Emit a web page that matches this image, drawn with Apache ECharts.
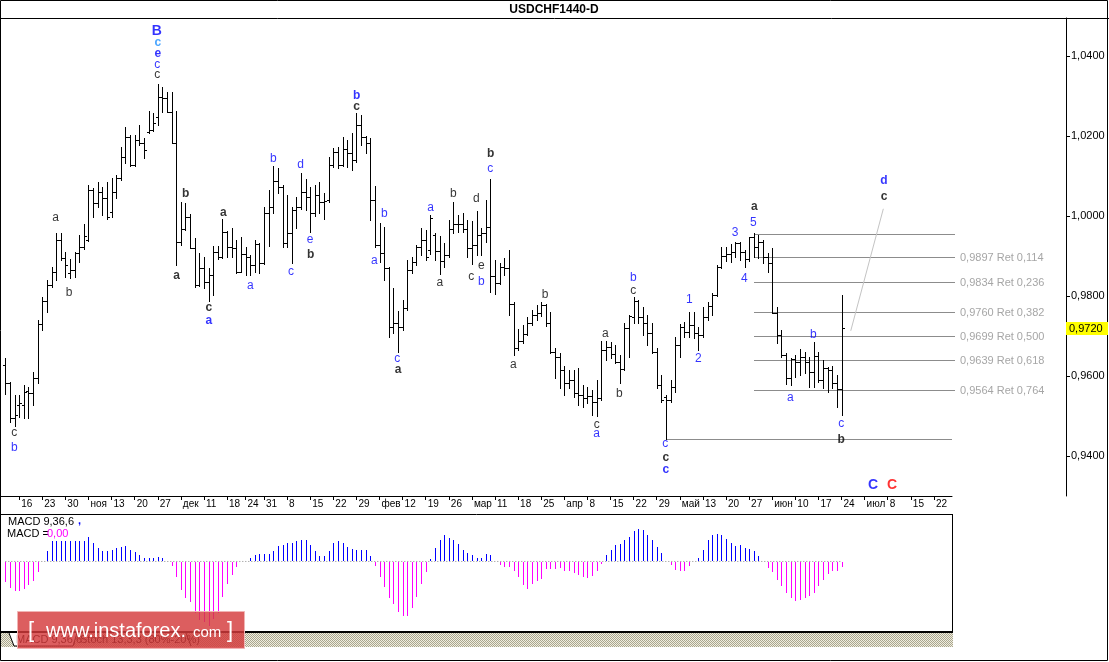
<!DOCTYPE html>
<html><head><meta charset="utf-8">
<script src="https://cdn.jsdelivr.net/npm/echarts@6/dist/echarts.min.js"></script>
<style>html,body{margin:0;padding:0;background:#fff;overflow:hidden}#c{width:1109px;height:662px}</style>
</head><body><div id="c"></div>
<script>
// ---------- DATA (daily USDCHF bars, index 0 = 13 Oct 2015) ----------
const opens = [0.9628,0.9582,0.9495,0.9528,0.9528,0.9563,0.9558,0.9594,0.9730,0.9788,
0.9828,0.9861,0.9940,0.9895,0.9858,0.9865,0.9907,0.9923,0.9940,1.0065,
1.0033,1.0061,1.0044,1.0010,1.0061,1.0094,1.0148,1.0198,1.0128,1.0190,
1.0182,1.0211,1.0215,1.0248,1.0298,1.0294,1.0260,1.0183,0.9936,0.9967,
0.9998,0.9921,0.9828,0.9871,0.9836,0.9853,0.9911,0.9897,0.9961,0.9923,
0.9919,0.9861,0.9905,0.9898,0.9878,0.9930,0.9883,1.0007,1.0022,1.0088,
1.0072,0.9932,0.9958,1.0015,1.0022,1.0061,1.0047,1.0007,1.0053,1.0036,
1.0040,1.0128,1.0161,1.0128,1.0167,1.0157,1.0140,1.0228,1.0198,1.0182,
1.0040,0.9928,0.9908,0.9869,0.9723,0.9733,0.9722,0.9769,0.9865,0.9884,
0.9923,0.9940,0.9915,0.9953,0.9913,0.9888,0.9903,0.9967,0.9980,0.9980,
0.9967,0.9919,0.9928,0.9953,0.9958,0.9972,0.9850,0.9832,0.9872,0.9869,
0.9780,0.9669,0.9688,0.9705,0.9732,0.9753,0.9757,0.9778,0.9733,0.9661,
0.9648,0.9615,0.9582,0.9590,0.9558,0.9553,0.9545,0.9550,0.9536,0.9546,
0.9665,0.9673,0.9655,0.9636,0.9617,0.9719,0.9748,0.9788,0.9748,0.9732,
0.9707,0.9661,0.9578,0.9548,0.9540,0.9572,0.9678,0.9723,0.9711,0.9727,
0.9707,0.9703,0.9748,0.9775,0.9803,0.9873,0.9900,0.9905,0.9911,0.9933,
0.9911,0.9892,0.9947,0.9922,0.9936,0.9898,0.9883,0.9758,0.9703,0.9653,
0.9594,0.9642,0.9635,0.9648,0.9635,0.9611,0.9650,0.9590,0.9619,0.9615,
0.9582,0.9567];
const highs = [0.9644,0.9585,0.9553,0.9553,0.9578,0.9573,0.9611,0.9740,0.9798,0.9840,
0.9873,0.9957,0.9957,0.9911,0.9893,0.9911,0.9953,0.9979,1.0078,1.0069,
1.0086,1.0073,1.0086,1.0094,1.0103,1.0173,1.0223,1.0203,1.0203,1.0228,
1.0194,1.0263,1.0257,1.0330,1.0322,1.0311,1.0311,1.0263,1.0036,1.0032,
1.0004,0.9944,0.9907,0.9898,0.9871,0.9925,0.9925,0.9993,0.9963,0.9971,
0.9940,0.9947,0.9923,0.9903,0.9940,0.9932,1.0023,1.0065,1.0125,1.0119,
1.0078,1.0053,1.0023,1.0048,1.0108,1.0092,1.0072,1.0078,1.0086,1.0057,
1.0148,1.0169,1.0173,1.0198,1.0190,1.0207,1.0257,1.0253,1.0200,1.0194,
1.0075,0.9983,0.9972,0.9873,0.9819,0.9763,0.9790,0.9890,0.9898,0.9928,
0.9969,0.9965,1.0003,0.9958,0.9950,0.9932,0.9990,1.0036,1.0003,1.0008,
0.9990,0.9988,1.0013,0.9969,1.0040,1.0092,0.9890,0.9882,0.9894,0.9915,
0.9786,0.9717,0.9728,0.9748,0.9765,0.9778,0.9786,0.9781,0.9761,0.9669,
0.9658,0.9625,0.9615,0.9615,0.9619,0.9578,0.9573,0.9565,0.9590,0.9688,
0.9688,0.9686,0.9678,0.9653,0.9732,0.9753,0.9798,0.9790,0.9772,0.9753,
0.9732,0.9669,0.9603,0.9553,0.9590,0.9698,0.9730,0.9736,0.9761,0.9761,
0.9723,0.9773,0.9786,0.9807,0.9878,0.9923,0.9923,0.9929,0.9936,0.9935,
0.9915,0.9948,0.9957,0.9953,0.9940,0.9907,0.9919,0.9773,0.9715,0.9657,
0.9644,0.9653,0.9667,0.9661,0.9648,0.9686,0.9661,0.9640,0.9623,0.9626,
0.9603,0.9803];
const lows = [0.9554,0.9486,0.9476,0.9498,0.9494,0.9494,0.9528,0.9582,0.9715,0.9761,
0.9823,0.9840,0.9890,0.9848,0.9844,0.9848,0.9886,0.9918,0.9938,0.9998,
1.0023,1.0003,0.9993,0.9998,1.0046,1.0090,1.0132,1.0125,1.0125,1.0178,
1.0146,1.0208,1.0212,1.0228,1.0259,1.0259,1.0182,0.9878,0.9928,0.9965,
0.9919,0.9822,0.9825,0.9819,0.9788,0.9803,0.9892,0.9895,0.9898,0.9898,
0.9857,0.9860,0.9853,0.9853,0.9861,0.9858,0.9880,0.9925,1.0007,1.0057,
0.9923,0.9923,0.9882,0.9969,1.0018,1.0015,0.9961,1.0000,1.0008,0.9992,
1.0035,1.0123,1.0119,1.0125,1.0123,1.0115,1.0135,1.0178,1.0157,0.9990,
0.9923,0.9886,0.9840,0.9697,0.9707,0.9661,0.9715,0.9765,0.9857,0.9878,
0.9903,0.9890,0.9905,0.9890,0.9855,0.9872,0.9898,0.9957,0.9961,0.9961,
0.9897,0.9880,0.9903,0.9903,0.9936,0.9811,0.9805,0.9830,0.9853,0.9753,
0.9653,0.9665,0.9682,0.9702,0.9728,0.9740,0.9750,0.9725,0.9658,0.9594,
0.9569,0.9553,0.9569,0.9548,0.9528,0.9523,0.9532,0.9503,0.9500,0.9540,
0.9640,0.9644,0.9633,0.9582,0.9615,0.9648,0.9733,0.9732,0.9703,0.9678,
0.9657,0.9569,0.9536,0.9443,0.9536,0.9561,0.9648,0.9698,0.9698,0.9694,
0.9665,0.9698,0.9740,0.9753,0.9800,0.9870,0.9888,0.9886,0.9898,0.9890,
0.9873,0.9888,0.9898,0.9894,0.9882,0.9861,0.9757,0.9683,0.9648,0.9580,
0.9578,0.9598,0.9603,0.9607,0.9573,0.9573,0.9586,0.9569,0.9561,0.9569,
0.9522,0.9503];
const closes = [0.9582,0.9495,0.9503,0.9533,0.9561,0.9558,0.9594,0.9730,0.9788,0.9828,
0.9861,0.9940,0.9895,0.9878,0.9865,0.9907,0.9923,0.9951,1.0065,1.0033,
1.0061,1.0044,0.9998,1.0061,1.0094,1.0148,1.0198,1.0128,1.0190,1.0182,
1.0165,1.0215,1.0232,1.0298,1.0294,1.0260,1.0183,0.9936,0.9967,0.9998,
0.9921,0.9828,0.9871,0.9836,0.9853,0.9911,0.9897,0.9961,0.9923,0.9919,
0.9861,0.9905,0.9898,0.9878,0.9930,0.9883,1.0007,1.0022,1.0088,1.0072,
0.9932,0.9958,1.0015,1.0022,1.0061,1.0047,1.0007,1.0053,1.0036,1.0038,
1.0128,1.0161,1.0128,1.0167,1.0157,1.0140,1.0228,1.0198,1.0182,1.0040,
0.9928,0.9908,0.9869,0.9723,0.9733,0.9722,0.9769,0.9865,0.9884,0.9923,
0.9940,0.9897,0.9994,0.9913,0.9888,0.9903,0.9967,0.9980,0.9980,0.9967,
0.9919,0.9928,0.9953,0.9958,0.9972,0.9850,0.9832,0.9872,0.9869,0.9780,
0.9669,0.9688,0.9705,0.9732,0.9753,0.9757,0.9778,0.9733,0.9661,0.9648,
0.9615,0.9582,0.9590,0.9558,0.9553,0.9545,0.9550,0.9536,0.9546,0.9665,
0.9673,0.9655,0.9636,0.9617,0.9719,0.9750,0.9788,0.9748,0.9732,0.9707,
0.9661,0.9578,0.9540,0.9540,0.9572,0.9678,0.9723,0.9711,0.9727,0.9707,
0.9703,0.9748,0.9775,0.9803,0.9873,0.9900,0.9905,0.9911,0.9933,0.9911,
0.9892,0.9947,0.9922,0.9936,0.9898,0.9883,0.9758,0.9703,0.9653,0.9594,
0.9642,0.9635,0.9648,0.9635,0.9611,0.9650,0.9590,0.9619,0.9615,0.9582,
0.9567,0.9720];
// MACD(9,36,6) histogram, one value per bar (arbitrary units)
const macdHist = [-22,-28,-31.5,-31,-29,-25.5,-21,-11,-1,10.6,
21.6,21.6,21.6,21.6,21.6,21.6,21.6,21.6,25.5,19.5,
14.5,10.6,10.6,11.7,14.5,15.2,16,12.7,10,6.4,
3.2,3.2,3.9,5,3.2,0.3,-5.3,-17,-30,-38.6,
-43.5,-55,-62,-64.4,-68,-61,-55,-38,-24.4,-14.5,
-6.4,-0.7,1,3.9,6.4,7.4,7.4,7.4,10.6,16,
17.7,19.5,19.5,21.6,22.3,22.3,17,11,5.7,6,
10.6,19.5,21.2,19.8,15.2,13.5,12.4,12.4,11.7,5.7,
-5.3,-16.6,-27,-38.6,-45,-54,-58,-58,-49.5,-38,
-23.7,-11.3,2.8,14.5,23,27.6,25,22.3,18.8,12.4,
8.8,6.4,4.2,4.2,7.4,6.4,0.3,-4.2,-6,-6,
-10.6,-16,-24.8,-29.7,-24,-21,-18.4,-8.5,-8.5,-7.8,
-6.7,-9.6,-10.6,-12.4,-14.9,-16.6,-17.3,-15.6,-9.6,-2.5,
6.4,12.4,17,18.8,22.3,26.5,31.9,34.7,32.9,27.6,
22.3,14.9,8.5,0.5,-4.2,-8.8,-10.6,-9.6,-5.3,0.5,
3.2,11.7,22.3,27.6,28.7,27.6,23.4,19.1,16,17,
14.5,13.1,10.6,5.3,0.5,-7,-11.3,-20,-26,-33.6,
-38.9,-42,-40.7,-39,-37,-33.6,-26.5,-20,-13.8,-9.6,
-9.6,-6];
// time axis: bar index of each label and its text
const dateTickIdx  = [3,8,13,18,23,28,33,38,43,48,52,56,61,66,71,76,81,86,91,96,101,106,111,116,121,126,131,136,141,146,151,156,161,166,171,176,181,186,191,196,201];
const dateTickText = ['16','23','30','ноя','13','20','27','дек','11','18','24','31','8','15','22','29','фев','12','19','26','мар','11','18','25','апр','8','15','22','29','май','13','20','27','июн','10','17','24','июл','8','15','22'];
const priceTicks = [0.94, 0.96, 0.98, 1.00, 1.02, 1.04];
const lastPrice = 0.9720;
// Fibonacci retracement of the 0.9956 -> 0.9443 swing
const fibLevels = [0.9956, 0.9897, 0.9834, 0.9760, 0.9699, 0.9639, 0.9564];
const fibRatios = ['', '0,114', '0,236', '0,382', '0,500', '0,618', '0,764'];
const fibFromBar = 162, fibToBar = 205.6;
const lowLevel = 0.9443, lowFromBar = 143, lowToBar = 204.85;
const trendLine = [[183.0, 0.9713], [190.05, 1.0018]];
// wave labels: [bar index, price, text, kind]
const waveLabels = [
[32.77,1.0463,'B','UB'],[32.99,1.0433,'c','cb'],[32.99,1.0407,'e','ub'],[32.9,1.0379,'c','u'],[32.9,1.0353,'c','k'],
[10.91,0.9996,'a','k'],[39.05,1.0057,'b','kb'],[47.19,1.0009,'a','kb'],[58.0,1.0144,'b','u'],[63.94,1.0128,'d','u'],
[65.95,0.9940,'e','u'],[66.1,0.9903,'b','kb'],[76.06,1.0300,'b','ub'],[76.06,1.0273,'c','kb'],[1.95,0.9458,'c','k'],
[1.95,0.9422,'b','u'],[13.79,0.9808,'b','k'],[37.1,0.9851,'a','kb'],[44.03,0.9771,'c','kb'],[44.03,0.9738,'a','ub'],
[53.03,0.9826,'a','u'],[61.84,0.9861,'c','u'],[105.06,1.0155,'b','kb'],[104.98,1.0118,'c','u'],[96.97,1.0055,'b','k'],
[101.95,1.0043,'d','k'],[92.08,1.0021,'a','u'],[82.03,1.0005,'b','u'],[157.94,0.9958,'3','u'],[79.87,0.9888,'a','u'],
[84.85,0.9644,'c','u'],[85.0,0.9615,'a','kb'],[94.03,0.9833,'a','k'],[100.87,0.9848,'c','k'],[103.03,0.9876,'e','k'],
[103.03,0.9836,'b','u'],[116.82,0.9803,'b','k'],[109.96,0.9628,'a','k'],[128.01,0.9479,'c','k'],[128.01,0.9455,'a','u'],
[129.87,0.9707,'a','k'],[132.9,0.9555,'b','k'],[135.93,0.9847,'b','u'],[135.93,0.9813,'c','k'],[148.05,0.9790,'1','u'],
[150.0,0.9644,'2','u'],[142.86,0.9430,'c','u'],[143.0,0.9396,'c','kb'],[143.0,0.9365,'c','ub'],[162.12,1.0023,'a','kb'],
[161.9,0.9983,'5','u'],[159.96,0.9844,'4','u'],[169.91,0.9546,'a','u'],[174.89,0.9704,'b','u'],[180.95,0.9482,'c','u'],
[180.95,0.9442,'b','kb'],[190.19,1.0088,'d','ub'],[190.19,1.0048,'c','kb'],[187.8,0.9326,'C','UB'],[191.96,0.9326,'C','RB']
];

// ---------- LAYOUT ----------
const FONT = "'Liberation Sans', Arial, sans-serif";
const PX = 4.62, X0 = 5.3;            // pixels per bar, x of first bar
const idxMin = -X0 / PX;
const mainW = 1066, subW = 952;
const fmtPrice = v => v.toFixed(4).replace('.', ',');
const labelMap = {}; dateTickIdx.forEach((v, k) => labelMap[v] = dateTickText[k]);
const kindStyle = {
  k:  {color:'#000000', fontWeight:'normal', fontSize:12},
  kb: {color:'#000000', fontWeight:'bold', fontSize:12},
  u:  {color:'#0000ff', fontWeight:'normal', fontSize:12},
  ub: {color:'#0000ff', fontWeight:'bold', fontSize:12},
  cb: {color:'#1e90ff', fontWeight:'bold', fontSize:12},
  UB: {color:'#0000ff', fontWeight:'bold', fontSize:14},
  RB: {color:'#ff0000', fontWeight:'bold', fontSize:14}
};

const chart = echarts.init(document.getElementById('c'), null, {renderer:'canvas', width:1109, height:662});

function renderOHLC(params, api) {
  const i = api.value(0);
  const po = api.coord([i, api.value(1)]);
  const ph = api.coord([i, api.value(2)]);
  const pl = api.coord([i, api.value(3)]);
  const pc = api.coord([i, api.value(4)]);
  const xi = Math.round(po[0]);
  const x = xi + 0.5;
  const yTop = Math.round(Math.min(ph[1], po[1], pc[1]));
  const yBot = Math.round(Math.max(pl[1], po[1], pc[1]));
  const yo = Math.round(po[1]) + 0.5, yc = Math.round(pc[1]) + 0.5;
  return {type:'group', children:[
    {type:'line', shape:{x1:x, y1:yTop, x2:x, y2:yBot + 1}, style:{stroke:'#000', lineWidth:1}},
    {type:'line', shape:{x1:xi - 2, y1:yo, x2:xi + 1, y2:yo}, style:{stroke:'#000', lineWidth:1}},
    {type:'line', shape:{x1:xi, y1:yc, x2:xi + 3, y2:yc}, style:{stroke:'#000', lineWidth:1}}
  ]};
}
function renderHLine(params, api) {
  const a = api.coord([api.value(0), api.value(2)]);
  const b = api.coord([api.value(1), api.value(2)]);
  const y = Math.round(a[1]) + 0.5;
  const k = api.value(3);
  const children = [{type:'line', shape:{x1:Math.round(a[0]), y1:y, x2:Math.round(b[0]), y2:y}, style:{stroke:'#8c8c8c', lineWidth:1}}];
  if (k >= 0 && fibRatios[k]) {
    children.push({type:'text', style:{x:Math.round(b[0]) + 5, y:y, text:fmtPrice(api.value(2)) + ' Ret ' + fibRatios[k],
      fill:'#a6a6a6', font:'11px ' + FONT, align:'left', verticalAlign:'middle'}});
  }
  return {type:'group', children};
}
function renderMacd(params, api) {
  const i = api.value(0), v = api.value(1);
  const p0 = api.coord([i, 0]), p1 = api.coord([i, v]);
  const x = Math.round(p0[0]) + 0.5;
  const y0 = Math.round(p0[1]) + (v >= 0 ? 0 : 1), y1 = Math.round(p1[1]);
  return {type:'line', shape:{x1:x, y1:y0, x2:x, y2:y1}, style:{stroke: v >= 0 ? '#0000ff' : '#ff00ff', lineWidth:1}};
}

const ohlcData = opens.map((o, i) => [i, o, highs[i], lows[i], closes[i]]);
const hLineData = fibLevels.map((lv, k) => [fibFromBar, fibToBar, lv, k]).concat([[lowFromBar, lowToBar, lowLevel, -1]]);

const option = {
  animation: false,
  backgroundColor: '#ffffff',
  textStyle: {fontFamily: FONT},
  grid: [
    {left:0, top:18, width:mainW, height:478, outerBoundsMode:'none', containLabel:false},
    {left:0, top:18, width:subW, height:478, outerBoundsMode:'none', containLabel:false},
    {left:0, top:514, width:subW, height:118, outerBoundsMode:'none', containLabel:false}
  ],
  xAxis: [
    {gridIndex:0, type:'value', min:idxMin, max:idxMin + mainW / PX, show:false},
    {gridIndex:1, type:'value', min:idxMin, max:idxMin + subW / PX, position:'bottom',
      axisLine:{show:true, onZero:false, lineStyle:{color:'#000', width:1}},
      axisTick:{show:true, customValues:dateTickIdx, length:4, inside:false, lineStyle:{color:'#000', width:1}},
      axisLabel:{show:true, customValues:dateTickIdx, formatter:v => labelMap[v] || '', align:'left', padding:[0,0,0,2],
        margin:3, color:'#000', fontSize:10, fontFamily:FONT, hideOverlap:false},
      splitLine:{show:false}},
    {gridIndex:2, type:'value', min:idxMin, max:idxMin + subW / PX, show:false}
  ],
  yAxis: [
    {gridIndex:0, type:'value', position:'right', min:0.93, max:1.0495,
      axisLine:{show:true, onZero:false, lineStyle:{color:'#000', width:1}},
      axisTick:{show:true, customValues:priceTicks, length:4, lineStyle:{color:'#000'}},
      axisLabel:{show:true, customValues:priceTicks, formatter:fmtPrice, margin:5, color:'#000', fontSize:11, fontFamily:FONT},
      splitLine:{show:false}},
    {gridIndex:1, type:'value', min:0, max:1, show:false},
    {gridIndex:2, type:'value', min:-74.9, max:50.4, show:false}
  ],
  series: [
    {type:'custom', name:'USDCHF', xAxisIndex:0, yAxisIndex:0, renderItem:renderOHLC, data:ohlcData,
      encode:{x:0, y:[1,2,3,4]}, silent:true, z:5},
    {type:'custom', name:'fib', xAxisIndex:0, yAxisIndex:0, renderItem:renderHLine, data:hLineData,
      encode:{x:[0,1], y:2}, silent:true, z:3},
    {type:'line', name:'trend', xAxisIndex:0, yAxisIndex:0, data:trendLine, symbol:'none',
      lineStyle:{color:'#c4c4c4', width:1}, silent:true, z:3},
    {type:'scatter', name:'waves', xAxisIndex:0, yAxisIndex:0, symbolSize:1, silent:true, z:6,
      itemStyle:{color:'rgba(0,0,0,0)'},
      label:{show:true, position:'inside', fontFamily:FONT},
      data: waveLabels.map(w => ({value:[w[0], w[1]], label:Object.assign({formatter:w[2], fontFamily:FONT}, kindStyle[w[3]])}))},
    {type:'line', name:'zero', xAxisIndex:2, yAxisIndex:2, data:[[0,0],[macdHist.length - 1, 0]], symbol:'none',
      lineStyle:{color:'#8c8c8c', width:1, type:[1,2]}, silent:true, z:2},
    {type:'custom', name:'MACD', xAxisIndex:2, yAxisIndex:2, renderItem:renderMacd,
      data: macdHist.map((v, i) => [i, v]), encode:{x:0, y:1}, silent:true, z:4}
  ]
};
chart.setOption(option);

// ---------- decoration ----------
const pat = document.createElement('canvas'); pat.width = 2; pat.height = 2;
const g = pat.getContext('2d');
g.fillStyle = '#efeddf'; g.fillRect(0, 0, 2, 2);
g.fillStyle = '#aaa68e'; g.fillRect(0, 0, 1, 1); g.fillRect(1, 1, 1, 1);

const py = Math.round(chart.convertToPixel({yAxisIndex:0}, lastPrice));
const T = (x, y, text, font, fill, align, z) => ({type:'text', x, y, z: z || 50,
  style:{text, font, fill, align: align || 'left', verticalAlign:'middle'}});
chart.setOption({graphic:[
  {type:'rect', z:60, shape:{x:0.5, y:0.5, width:1107, height:660}, style:{fill:'none', stroke:'#000', lineWidth:1}},
  {type:'line', z:60, shape:{x1:0, y1:18.5, x2:1109, y2:18.5}, style:{stroke:'#000', lineWidth:1}},
  T(554, 10, 'USDCHF1440-D', 'bold 12px ' + FONT, '#000', 'center'),
  // MACD pane frame
  {type:'line', z:40, shape:{x1:0, y1:514.5, x2:953, y2:514.5}, style:{stroke:'#000', lineWidth:1}},
  {type:'line', z:40, shape:{x1:952.5, y1:514, x2:952.5, y2:633}, style:{stroke:'#000', lineWidth:1}},
  {type:'rect', z:40, shape:{x:0, y:631, width:953, height:2}, style:{fill:'#000'}},
  {type:'rect', z:40, shape:{x:1, y:633, width:952, height:14}, style:{fill:{image:pat, repeat:'repeat'}}},
  {type:'polyline', z:41, shape:{points:[[9,633],[14,646],[73,646],[77,633]]}, style:{fill:'#ffffff', stroke:'#000', lineWidth:1}},
  T(16, 640, 'MACD 9,36,6', '11px ' + FONT, '#000'),
  T(80, 640, 'Stoch 13,3,3 (80%-20%)', '11px ' + FONT, '#000'),
  {type:'line', z:41, shape:{x1:186, y1:633, x2:191, y2:646}, style:{stroke:'#000', lineWidth:1}},
  T(8, 522, 'MACD 9,36,6', '11px ' + FONT, '#000'),
  T(78, 521, ',', 'bold 11px ' + FONT, '#0000ff'),
  T(7, 534, 'MACD =', '11px ' + FONT, '#000'),
  T(47, 534, '0,00', '11px ' + FONT, '#ff00ff'),
  // watermark
  {type:'rect', z:70, shape:{x:17.5, y:611.5, width:227, height:37}, style:{fill:'rgba(212,58,60,0.82)', stroke:'#f0b4b4', lineWidth:1}},
  {type:'text', z:71, x:28, y:631, style:{text:'[', font:'22px ' + FONT, fill:'#fff', align:'left', verticalAlign:'middle'}},
  {type:'text', z:71, x:46, y:631, style:{text:'www.instaforex.', font:'20px ' + FONT, fill:'#fff', align:'left', verticalAlign:'middle'}},
  {type:'text', z:71, x:193, y:633, style:{text:'com', font:'15px ' + FONT, fill:'#fff', align:'left', verticalAlign:'middle'}},
  {type:'text', z:71, x:227, y:631, style:{text:']', font:'22px ' + FONT, fill:'#fff', align:'left', verticalAlign:'middle'}},
  // current price box
  {type:'rect', z:80, shape:{x:1066, y:py - 6, width:42, height:13}, style:{fill:'#ffff00'}},
  T(1069, py + 0.5, fmtPrice(lastPrice), '11px ' + FONT, '#000', 'left', 90)
]});
</script>
</body></html>
